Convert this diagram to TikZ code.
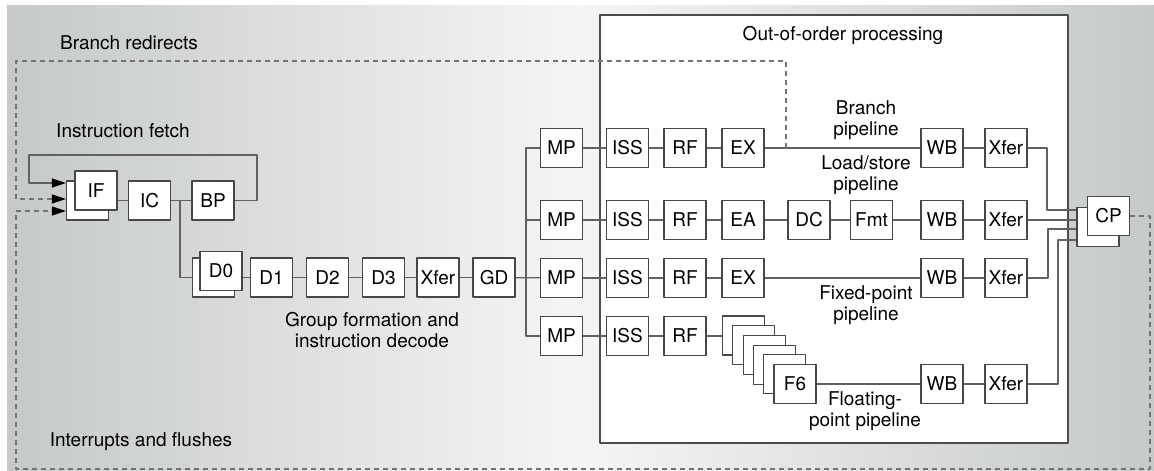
\documentclass[tikz,border=0pt]{standalone}
\usepackage{fontspec}
\setmainfont{TeX Gyre Heros}
\usetikzlibrary{arrows.meta}
\definecolor{bggray}{RGB}{198,201,201}
\begin{document}
\begin{tikzpicture}[x=1pt,y=-1pt,>={Triangle[length=14pt,width=9pt,black]}, line join=round,
  font=\fontsize{19}{21}\selectfont,
  stage/.style={draw=black!72,fill=white,line width=1.1pt,minimum width=42pt,minimum height=39pt,inner sep=0pt},
  wire/.style={draw=black!62,line width=1.3pt},
  redir/.style={draw=black!55,line width=1.2pt,dash pattern=on 5pt off 4pt},
  lbl/.style={align=center}]
\useasboundingbox (0,0) rectangle (1154,471);
\shade[left color=bggray,right color=bggray,middle color=gray!8] (7,5) rectangle (1154,471);
\draw[fill=white,draw=black!70,line width=1.1pt] (600,15) rectangle (1068,443);
% fetch
\node[stage] (ifb) at (87.5,200.5) {};
\node[stage] (if) at (96,190.5) {IF};
\node[stage] (ic) at (149.5,200.5) {IC};
\node[stage] (bp) at (213,200.5) {BP};
\draw[wire] (if.east |- ic) -- (ic) -- (bp);
\draw[wire,->] (bp) -| (257,155) -| (29,183) -- (ifb.west |- 0,183);
% decode
\node[stage] (d0b) at (213.5,277.5) {};
\node[stage] (d0) at (221,271) {D0};
\node[stage] (d1) at (271.5,277.5) {D1};
\node[stage] (d2) at (327.5,277.5) {D2};
\node[stage] (d3) at (383.5,277.5) {D3};
\node[stage] (dx) at (438,277.5) {Xfer};
\node[stage] (gd) at (494,277.5) {GD};
\coordinate (fj) at (180,200.5);
\draw[wire] (fj) |- (d0b);
\draw[wire] (d0.east |- d1) -- (d1);
\foreach \a/\b in {d1/d2,d2/d3,d3/dx,dx/gd} \draw[wire] (\a) -- (\b);
% issue
\foreach \r/\y in {1/148,2/220,3/278,4/336}{
  \node[stage] (mp\r) at (561.5,\y) {MP};
  \node[stage] (iss\r) at (627.5,\y) {ISS};
  \node[stage] (rf\r) at (685,\y) {RF};
  \draw[wire] (mp\r) -- (iss\r) -- (rf\r);
}
\draw[wire] (gd) -- (mp3);
\draw[wire] (mp1.west) -- ++(-14,0) |- (mp4.west);
\draw[wire] (mp2.west) -- ++(-14,0);
% pipelines
\node[stage] (ex1) at (743,148) {EX};
\node[stage] (wb1) at (942,148) {WB};
\node[stage] (xf1) at (1006,148) {Xfer};
\node[stage] (ea2) at (743,220) {EA};
\node[stage] (dc2) at (809,220) {DC};
\node[stage] (fmt2) at (871.5,220) {Fmt};
\node[stage] (wb2) at (942,220) {WB};
\node[stage] (xf2) at (1006,220) {Xfer};
\node[stage] (ex3) at (743,278) {EX};
\node[stage] (wb3) at (942,278) {WB};
\node[stage] (xf3) at (1006,278) {Xfer};
\foreach \k in {1,...,5}
  \node[stage] (f\k) at ({795-10.3*(6-\k)},{384-9.7*(6-\k)}) {};
\node[stage] (f6) at (795,384) {F6};
\node[stage] (wb4) at (942,384) {WB};
\node[stage] (xf4) at (1006,384) {Xfer};
\draw[wire] (rf1) -- (ex1) -- (wb1) -- (xf1);
\draw[wire] (rf2) -- (ea2) -- (dc2) -- (fmt2) -- (wb2) -- (xf2);
\draw[wire] (rf3) -- (ex3) -- (wb3) -- (xf3);
\draw[wire] (rf4.east) -- (rf4.east -| f1.west);
\draw[wire] (f6) -- (wb4) -- (xf4);
% completion
\node[stage] (cpb) at (1098,227) {};
\node[stage] (cp) at (1108.5,216) {CP};
\draw[wire] (xf1) -| (1047,210) -- (cpb.west |- 0,210);
\draw[wire] (xf2) -- (cpb.west |- xf2);
\draw[wire] (xf3) -| (1048,229) -- (cpb.west |- 0,229);
\draw[wire] (xf4) -| (1058,240) -- (cpb.west |- 0,240);
% redirects
\coordinate (brtap) at (786,148);
\draw[redir,->] (brtap) |- (16,61) |- (ifb.west |- 0,199);
\draw[redir,->] (cp.east) -| (1150,469) -| (16,211) -- (ifb.west |- 0,211);
% labels
\node (brl) at (129,43) {Branch redirects};
\node (ifl) at (123,131) {Instruction fetch};
\node[lbl] (gfl) at (372,330) {Group formation and\\instruction decode};
\node (intl) at (141,442) {Interrupts and flushes};
\node (oool) at (843,35) {Out-of-order processing};
\node[lbl] (bpl) at (866,120) {Branch\\pipeline};
\node[lbl] (lsl) at (866,175) {Load/store\\pipeline};
\node[lbl] (fxl) at (866,305) {Fixed-point\\pipeline};
\node[lbl] (fpl) at (865,411) {Floating-\\point pipeline};
\end{tikzpicture}
\end{document}
